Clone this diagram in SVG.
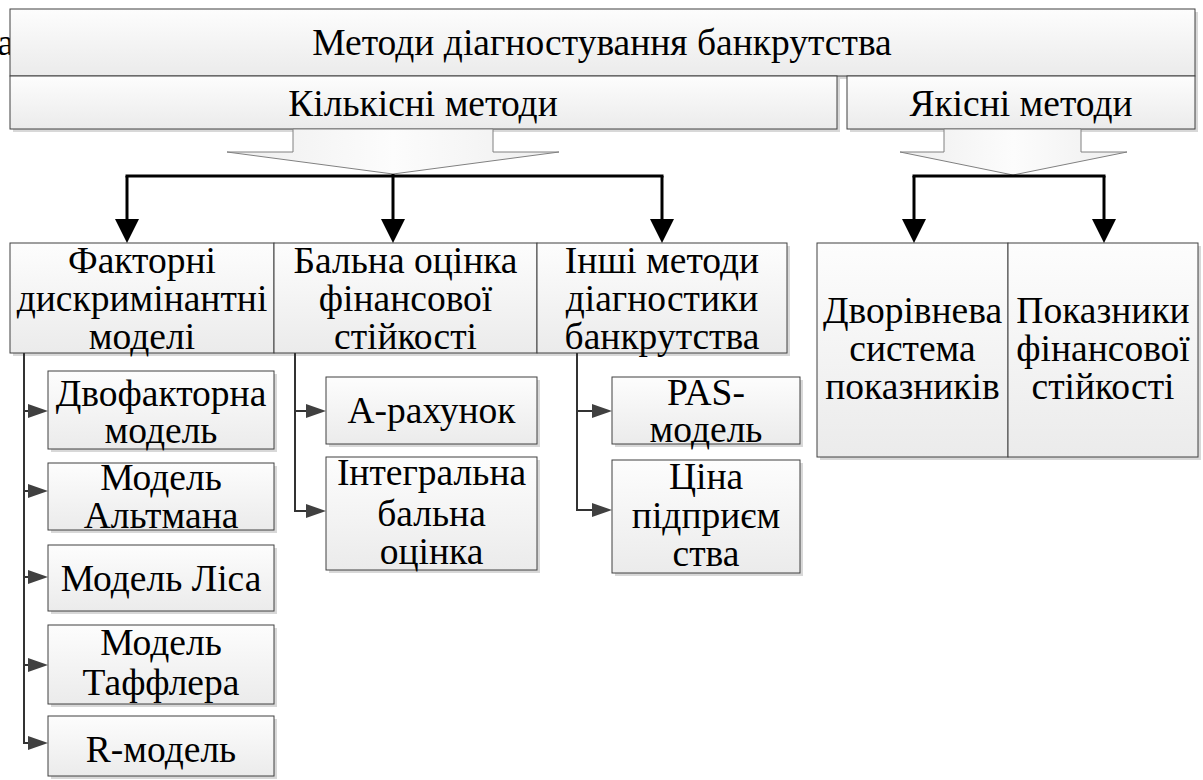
<svg xmlns="http://www.w3.org/2000/svg" width="1203" height="780" viewBox="0 0 1203 780">
<defs>
<linearGradient id="boxg" x1="0" y1="0" x2="0" y2="1">
<stop offset="0" stop-color="#fdfdfd"/>
<stop offset="1" stop-color="#ebebeb"/>
</linearGradient>
<linearGradient id="arrg" x1="0" y1="0" x2="1" y2="0">
<stop offset="0" stop-color="#eeeeee"/>
<stop offset="0.5" stop-color="#fcfcfc"/>
<stop offset="1" stop-color="#eeeeee"/>
</linearGradient>
<marker id="bigHead" markerUnits="userSpaceOnUse" markerWidth="24" markerHeight="24" viewBox="0 0 24 24" refX="12" refY="12" orient="auto">
<path d="M0,0 L24,12 L0,24 Z" fill="#000"/>
</marker>
<marker id="smallHead" markerUnits="userSpaceOnUse" markerWidth="20" markerHeight="14" viewBox="0 0 20 14" refX="12" refY="7" orient="auto">
<path d="M0,0 L20,7 L0,14 Z" fill="#404040"/>
</marker>
</defs>
<style>
.box{fill:url(#boxg);stroke:#404040;stroke-width:1}
.sh{fill:#d8d8d8}
.blk{fill:url(#arrg);stroke:#808080;stroke-width:1}
text{font-family:"Liberation Serif","Times New Roman",serif;font-size:37.5px;fill:#000;text-anchor:middle}
.big{stroke:#000;stroke-width:3;fill:none}
.thin{stroke:#333;stroke-width:2;fill:none}
</style>
<text x="14" y="55" style="text-anchor:end">та</text>

<g id="top">
<rect class="sh" x="13" y="12" width="1185" height="67"/>
<rect class="box" x="10" y="9" width="1185" height="67"/>
<text x="602" y="55">Методи діагностування банкрутства</text>
</g>
<g id="quant">
<rect class="sh" x="13" y="79" width="827" height="53"/>
<rect class="box" x="10" y="76" width="827" height="53"/>
<text x="423" y="116">Кількісні методи</text>
</g>
<g id="qual">
<rect class="sh" x="850" y="79" width="348" height="53"/>
<rect class="box" x="847" y="76" width="348" height="53"/>
<text x="1021" y="116">Якісні методи</text>
</g>
<g id="quant-arrow">
<polygon class="blk" points="293,129 493,129 493,152 559,152 393,174 227,152 293,152"/>
</g>
<g id="qual-arrow">
<polygon class="blk" points="944,129 1081,129 1081,152 1127,152 1013,175 900,152 944,152"/>
</g>

<g id="factor">
<rect class="sh" x="13" y="246" width="264" height="110"/>
<rect class="box" x="10" y="243" width="264" height="110"/>
<text x="142" y="273">Факторні</text>
<text x="142" y="311">дискримінантні</text>
<text x="142" y="349">моделі</text>
</g>
<g id="ball">
<rect class="sh" x="277" y="246" width="263" height="110"/>
<rect class="box" x="274" y="243" width="263" height="110"/>
<text x="405.5" y="273">Бальна оцінка</text>
<text x="405.5" y="311">фінансової</text>
<text x="405.5" y="349">стійкості</text>
</g>
<g id="other">
<rect class="sh" x="540" y="246" width="250" height="110"/>
<rect class="box" x="537" y="243" width="250" height="110"/>
<text x="662" y="273">Інші методи</text>
<text x="662" y="311">діагностики</text>
<text x="662" y="349">банкрутства</text>
</g>
<g id="twolevel">
<rect class="sh" x="820" y="246" width="191" height="214"/>
<rect class="box" x="817" y="243" width="191" height="214"/>
<text x="912.5" y="323">Дворівнева</text>
<text x="912.5" y="361">система</text>
<text x="912.5" y="399">показників</text>
</g>
<g id="indicators">
<rect class="sh" x="1011" y="246" width="190" height="214"/>
<rect class="box" x="1008" y="243" width="190" height="214"/>
<text x="1103" y="323">Показники</text>
<text x="1103" y="361">фінансової</text>
<text x="1103" y="399">стійкості</text>
</g>

<g id="twofactor">
<rect class="sh" x="51" y="374" width="226" height="78"/>
<rect class="box" x="48" y="371" width="226" height="78"/>
<text x="161" y="406">Двофакторна</text>
<text x="161" y="443">модель</text>
</g>
<g id="altman">
<rect class="sh" x="51" y="466" width="226" height="67"/>
<rect class="box" x="48" y="463" width="226" height="67"/>
<text x="161" y="490">Модель</text>
<text x="161" y="528">Альтмана</text>
</g>
<g id="lis">
<rect class="sh" x="51" y="548" width="226" height="66"/>
<rect class="box" x="48" y="545" width="226" height="66"/>
<text x="161" y="591">Модель Ліса</text>
</g>
<g id="taffler">
<rect class="sh" x="51" y="628" width="226" height="79"/>
<rect class="box" x="48" y="625" width="226" height="79"/>
<text x="161" y="655">Модель</text>
<text x="161" y="695">Таффлера</text>
</g>
<g id="rmodel">
<rect class="sh" x="51" y="719" width="226" height="60"/>
<rect class="box" x="48" y="716" width="226" height="60"/>
<text x="161" y="762">R-модель</text>
</g>

<g id="arahunok">
<rect class="sh" x="329" y="380" width="211" height="67"/>
<rect class="box" x="326" y="377" width="211" height="67"/>
<text x="431.5" y="423">А-рахунок</text>
</g>
<g id="integral">
<rect class="sh" x="329" y="460" width="211" height="113"/>
<rect class="box" x="326" y="457" width="211" height="113"/>
<text x="431.5" y="485">Інтегральна</text>
<text x="431.5" y="526">бальна</text>
<text x="431.5" y="564">оцінка</text>
</g>

<g id="pas">
<rect class="sh" x="615" y="380" width="188" height="67"/>
<rect class="box" x="612" y="377" width="188" height="67"/>
<text x="706" y="405">PAS-</text>
<text x="706" y="442">модель</text>
</g>
<g id="price">
<rect class="sh" x="615" y="463" width="188" height="113"/>
<rect class="box" x="612" y="460" width="188" height="113"/>
<text x="706" y="489">Ціна</text>
<text x="706" y="528">підприєм</text>
<text x="706" y="566">ства</text>
</g>

<g id="connectors">
<path class="big" d="M125.5,176 H663.5"/>
<path class="big" d="M127,176 V231" marker-end="url(#bigHead)"/>
<path class="big" d="M393,174 V231" marker-end="url(#bigHead)"/>
<path class="big" d="M662,176 V231" marker-end="url(#bigHead)"/>
<path class="big" d="M912.5,176 H1105.5"/>
<path class="big" d="M914,176 V231" marker-end="url(#bigHead)"/>
<path class="big" d="M1104,176 V231" marker-end="url(#bigHead)"/>

<path class="thin" d="M24,353 V743 H40" marker-end="url(#smallHead)"/>
<path class="thin" d="M24,411 H40" marker-end="url(#smallHead)"/>
<path class="thin" d="M24,491 H40" marker-end="url(#smallHead)"/>
<path class="thin" d="M24,577 H40" marker-end="url(#smallHead)"/>
<path class="thin" d="M24,665 H40" marker-end="url(#smallHead)"/>

<path class="thin" d="M295,353 V511 H318" marker-end="url(#smallHead)"/>
<path class="thin" d="M295,411 H318" marker-end="url(#smallHead)"/>

<path class="thin" d="M577,353 V510 H604" marker-end="url(#smallHead)"/>
<path class="thin" d="M577,411 H604" marker-end="url(#smallHead)"/>
</g>
</svg>
